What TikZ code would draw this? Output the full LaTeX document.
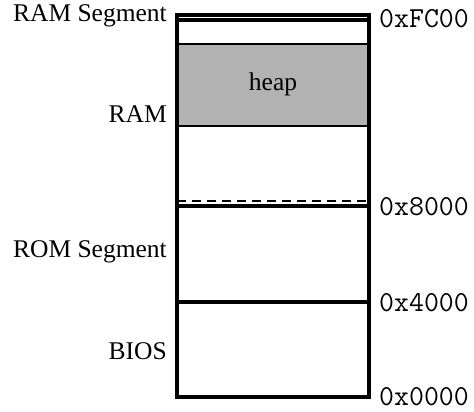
\documentclass[tikz,border=0pt]{standalone}
\usepackage{fontspec}
\setmainfont{Liberation Serif}
\begin{document}
\begin{tikzpicture}[x=1pt,y=-1pt,
  lbl/.style={font=\fontsize{25.5}{28}\selectfont, anchor=east, inner sep=0pt},
  hex/.style={font=\ttfamily\fontsize{29}{30}\selectfont, anchor=west, inner sep=0pt},
  outer/.style={line width=3.5pt},
  sep/.style={line width=3.5pt},
  thin sep/.style={line width=2pt}]
\useasboundingbox (0,0) rectangle (474,412);
% coordinates
\coordinate (tl) at (177,15);
\coordinate (br) at (369,397);
% heap
\fill[black!30] (177,44) rectangle (369,126);
\draw[thin sep] (177,44) -- (369,44);
\draw[thin sep] (177,126) -- (369,126);
\node[font=\fontsize{25.5}{28}\selectfont] (heap) at (273,84) {heap};
% top lines
\draw[thin sep] (177,15) -- (369,15);
\draw[line width=3.5pt] (177,20) -- (369,20);
% dashed
\draw[thin sep, dash pattern=on 9pt off 6pt] (177,201) -- (369,201);
% separators
\draw[sep] (177,206) -- (369,206);
\draw[sep] (177,302) -- (369,302);
% outer box
\draw[outer] (tl) rectangle (br);
% left labels
\node[lbl] (ramseg) at (167,16) {RAM Segment};
\node[lbl] (ram) at (167,114) {RAM};
\node[lbl] (romseg) at (167,252) {ROM Segment};
\node[lbl] (bios) at (167,351) {BIOS};
% right labels
\node[hex] (fc00) at (379,19) {0xFC00};
\node[hex] (x8000) at (379,207) {0x8000};
\node[hex] (x4000) at (379,303) {0x4000};
\node[hex] (x0000) at (379,397) {0x0000};
\end{tikzpicture}
\end{document}
